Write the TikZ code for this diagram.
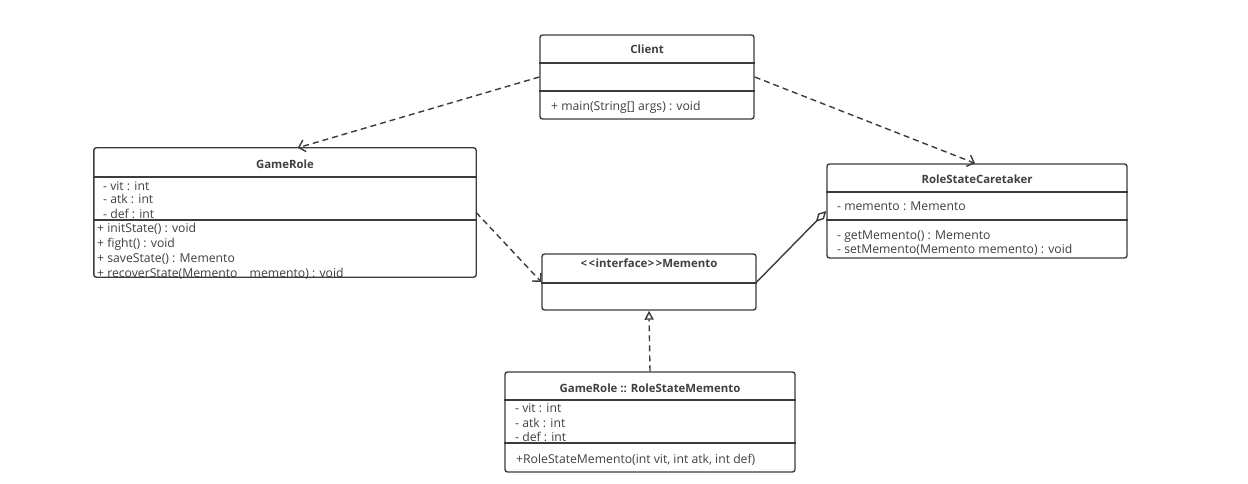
\documentclass[tikz,border=0pt]{standalone}
\usepackage{fontspec}
\setmainfont{Open Sans}
\usetikzlibrary{arrows.meta,calc}
\definecolor{ink}{HTML}{3C3C3C}
\definecolor{txt}{HTML}{404040}
\begin{document}
\begin{tikzpicture}[x=1pt,y=-1pt,
  cls/.style={draw=ink, line width=1.4pt, rounded corners=2.5pt, fill=white, inner sep=0pt},
  clsbody/.style={fill=white, inner sep=0pt},
  frame/.style={draw=ink, line width=1.4pt, rounded corners=2.5pt},
  sep/.style={draw=ink, line width=1.4pt},
  member/.style={anchor=base west, inner sep=0pt, font=\fontsize{12.2}{14}\selectfont, text=txt},
  ttl/.style={anchor=base, inner sep=0pt, font=\fontsize{11.4}{13}\selectfont\bfseries, text=txt},
  dep/.style={draw=ink, line width=1.4pt, dash pattern=on 6pt off 4pt,
    -{Straight Barb[length=6pt,width=12pt]}},
  real/.style={draw=ink, line width=1.4pt, dash pattern=on 6pt off 4pt,
    -{Triangle[fill=white,length=9pt,width=9pt]}},
  agg/.style={draw=ink, line width=1.4pt,
    -{Diamond[fill=white,length=15pt,width=8pt]}}
]
\useasboundingbox[fill=white] (0,0) rectangle (1248,484);

% Client
\node[cls, minimum width=214pt, minimum height=84pt] (client) at (647,77) {};
\draw[sep] (client.west |- 0,63) -- (client.east |- 0,63);
\draw[sep] (client.west |- 0,91) -- (client.east |- 0,91);
\node[ttl] (clientT) at (647,54) {Client};
\node[member] (clientM1) at (551,111) {+ main(String[] args) : void};

% GameRole (frame drawn last so it cuts the overflowing last line)
\node[clsbody, minimum width=382pt, minimum height=129pt] (gamerole) at (285,212.5) {};
\node[ttl] (gameroleT) at (285,168) {GameRole};
\node[member] (grA1) at (103,190) {- vit : int};
\node[member] (grA2) at (103,204) {- atk : int};
\node[member] (grA3) at (103,218) {- def : int};
\node[member] (grM1) at (97,232) {+ initState() : void};
\node[member] (grM2) at (97,247) {+ fight() : void};
\node[member] (grM3) at (97,262) {+ saveState() : Memento};
\node[member] (grM4) at (97,277) {+ recoverState(Memento\quad memento) : void};
\draw[sep] (gamerole.west |- 0,177) -- (gamerole.east |- 0,177);
\draw[sep] (gamerole.west |- 0,220) -- (gamerole.east |- 0,220);
\draw[frame] (gamerole.north west) rectangle (gamerole.south east);

% RoleStateCaretaker
\node[cls, minimum width=300pt, minimum height=94pt] (caretaker) at (977,211) {};
\draw[sep] (caretaker.west |- 0,192) -- (caretaker.east |- 0,192);
\draw[sep] (caretaker.west |- 0,220) -- (caretaker.east |- 0,220);
\node[ttl] (caretakerT) at (977,183) {RoleStateCaretaker};
\node[member] (ctA1) at (837,211) {- memento : Memento};
\node[member] (ctM1) at (837,239) {- getMemento() : Memento};
\node[member] (ctM2) at (837,253) {- setMemento(Memento memento) : void};

% Memento interface
\node[cls, minimum width=214pt, minimum height=56pt] (memento) at (649,282) {};
\draw[sep] (memento.west |- 0,283) -- (memento.east |- 0,283);
\node[ttl] (mementoT) at (649,267) {<\kern1.5pt<\kern0.5pt interface\kern0.5pt>\kern1.5pt>Memento};

% GameRole :: RoleStateMemento
\node[cls, minimum width=290pt, minimum height=100pt] (rsm) at (650,422) {};
\node[ttl] (rsmT) at (650,392) {GameRole :: RoleStateMemento};
\node[member] (rsA1) at (515,412) {- vit : int};
\node[member] (rsA2) at (515,427) {- atk : int};
\node[member] (rsA3) at (515,441) {- def : int};
\draw[sep] (rsm.west |- 0,400) -- (rsm.east |- 0,400);
\draw[sep] (rsm.west |- 0,443) -- (rsm.east |- 0,443);
\node[member] (rsM1) at (516,463) {+RoleStateMemento(int vit, int atk, int def)};

% relations
\draw[dep] (client.west) -- ([xshift=204pt]gamerole.north west);
\draw[dep] (client.east) -- ([xshift=-2pt]caretaker.north);
\draw[dep] (gamerole.east) -- (memento.west);
\draw[agg] (memento.east) -- (caretaker.west);
\draw[real] (rsm.north) -- (memento.south);
\end{tikzpicture}
\end{document}
